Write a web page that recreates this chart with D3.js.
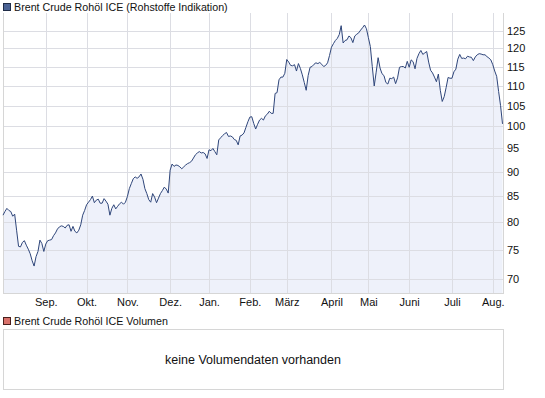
<!DOCTYPE html>
<html>
<head>
<meta charset="utf-8">
<script src="https://cdn.jsdelivr.net/npm/d3@7"></script>
<style>
  body { margin: 0; background: #fff; }
  svg { display: block; font-family: "Liberation Sans", Arial, sans-serif; }
</style>
</head>
<body>
<script>
// Brent, Schlusskurse pro Handelstag (Index 0 = erster Handelstag im Chart)
const prices = [
  81.3, 82.0, 82.6, 82.2, 82.0, 81.1, 81.5, 78.5, 75.6, 75.5,
  76.3, 76.6, 75.8, 75.1, 74.3, 73.1, 72.2, 73.8, 74.7, 76.7,
  76.1, 74.7, 76.0, 76.6, 76.7, 76.8, 77.5, 78.0, 78.7, 79.1,
  79.3, 79.2, 78.9, 79.4, 79.5, 78.3, 79.2, 78.3, 78.0, 78.5,
  79.5, 81.3, 82.2, 83.3, 83.8, 84.3, 85.0, 83.7, 84.2, 84.4,
  83.6, 83.6, 84.5, 84.0, 83.4, 81.3, 82.6, 83.3, 82.5, 83.0,
  83.5, 83.8, 83.4, 83.8, 84.9, 86.5, 87.5, 88.5, 88.9, 88.6,
  88.9, 89.5, 88.4, 86.5, 85.5, 84.3, 83.8, 85.5, 84.8, 83.7,
  84.6, 85.5, 86.1, 86.8, 86.4, 85.6, 90.3, 91.6, 91.1, 91.4,
  91.3, 91.0, 90.6, 91.0, 91.4, 91.7, 91.9, 92.2, 92.9, 93.6,
  94.0, 94.3, 94.0, 94.1, 93.8, 92.8, 94.7, 94.5, 95.0, 94.3,
  93.6, 96.9, 97.4, 97.9, 98.3, 98.6, 97.7, 97.8, 97.6, 97.0,
  96.8, 95.8, 97.8, 98.0, 98.5, 99.8, 101.1, 102.2, 102.3, 100.7,
  99.4, 100.5, 101.5, 101.9, 101.5, 102.5, 102.9, 103.6, 103.1, 103.1,
  108.0, 108.2, 111.5, 112.2, 112.2, 113.2, 116.9, 116.2, 115.3, 115.2,
  115.5, 113.8, 115.8, 114.5, 112.8, 110.8, 108.8, 112.6, 114.8, 115.0,
  115.6, 116.0, 115.8, 116.1, 115.6, 115.0, 115.3, 116.0, 118.0, 120.3,
  121.3, 122.2, 122.8, 123.9, 126.5, 121.5, 122.2, 122.4, 123.5, 123.0,
  121.6, 123.5, 124.0, 124.4, 125.2, 125.9, 126.7, 125.6, 123.0, 120.5,
  115.0, 109.9, 113.5, 117.4, 114.6, 113.1, 112.6, 110.8, 110.4, 111.9,
  111.8, 112.2, 110.5, 112.0, 114.8, 115.0, 115.0, 114.6, 116.4, 114.8,
  116.8, 116.3, 114.4, 117.2, 118.5, 119.4, 118.3, 118.7, 119.1, 116.2,
  114.0, 113.3, 112.2, 111.0, 113.0, 108.8, 106.0, 107.2, 109.5, 112.1,
  111.9, 111.9, 113.6, 114.3, 117.0, 118.3, 117.2, 117.3, 117.1, 117.8,
  117.6, 117.5, 116.6, 117.6, 118.2, 118.5, 118.4, 118.2, 118.2, 117.7,
  117.3, 116.8, 115.5, 113.8, 112.4, 108.5, 105.0, 100.6
]

const monthLabels = ['Sep.', 'Okt.', 'Nov.', 'Dez.', 'Jan.', 'Feb.', 'März', 'April', 'Mai', 'Juni', 'Juli', 'Aug.']
// Handelstag-Index des Monatsersten
const monthStarts = [22, 43, 64, 86, 106, 127, 146, 169, 188, 209, 231, 252]
const yTicks = [70, 75, 80, 85, 90, 95, 100, 105, 110, 115, 120, 125]

const width = 545
const height = 398
const plot = { left: 3, right: 503, top: 13, bottom: 293 }
const font = '"Liberation Sans", Arial, sans-serif'

const svg = d3.select('body').append('svg')
    .attr('width', width)
    .attr('height', height)

const x = d3.scaleLinear()
    .domain([0, prices.length - 1])
    .range([plot.left, plot.right - 0.5])

const y = d3.scaleLog()
    .domain([67.8, 130.3])
    .range([plot.bottom, plot.top])

// Legende oben
svg.append('rect')
    .attr('x', 3.5).attr('y', 3.5).attr('width', 7).attr('height', 7)
    .attr('fill', '#4a6294').attr('stroke', '#1f2c47')
svg.append('text')
    .attr('x', 14).attr('y', 11)
    .attr('font-size', 10.7).attr('fill', '#111')
    .text('Brent Crude Rohöl ICE (Rohstoffe Indikation)')

// Fläche unter der Kurve
const area = d3.area()
    .x((d, i) => x(i))
    .y0(plot.bottom)
    .y1(d => y(d))

svg.append('path')
    .datum(prices)
    .attr('d', area)
    .attr('fill', '#eef1fa')

// Gitter
const grid = svg.append('g')
    .attr('stroke', '#dcdde3')
    .attr('shape-rendering', 'crispEdges')

grid.selectAll('.h')
    .data(yTicks)
    .join('line')
    .attr('x1', plot.left).attr('x2', plot.right)
    .attr('y1', d => Math.round(y(d)) + 0.5)
    .attr('y2', d => Math.round(y(d)) + 0.5)

grid.selectAll('.v')
    .data(monthStarts)
    .join('line')
    .attr('x1', d => Math.round(x(d)) + 0.5)
    .attr('x2', d => Math.round(x(d)) + 0.5)
    .attr('y1', plot.top).attr('y2', plot.bottom)

// Rahmen links, rechts, unten
svg.append('path')
    .attr('d', `M${plot.left + 0.5},${plot.top}V${plot.bottom + 0.5}H${plot.right + 0.5}V${plot.top}`)
    .attr('fill', 'none')
    .attr('stroke', '#d6d6d6')
    .attr('shape-rendering', 'crispEdges')

// Kurs-Linie
const line = d3.line()
    .x((d, i) => x(i))
    .y(d => y(d))

svg.append('path')
    .datum(prices)
    .attr('d', line)
    .attr('fill', 'none')
    .attr('stroke', '#2f467a')
    .attr('stroke-width', 1)

// Achsen
const yAxis = d3.axisRight(y)
    .tickValues(yTicks)
    .tickFormat(d3.format('d'))
    .tickSize(0)
    .tickPadding(4)

svg.append('g')
    .attr('transform', `translate(${plot.right},0)`)
    .call(yAxis)
    .call(g => g.select('.domain').remove())
    .call(g => g.selectAll('text')
        .attr('font-size', 11)
        .attr('font-family', font)
        .attr('fill', '#111'))

const xAxis = d3.axisBottom(x)
    .tickValues(monthStarts)
    .tickFormat((d, i) => monthLabels[i])
    .tickSize(0)
    .tickPadding(5)

svg.append('g')
    .attr('transform', `translate(0,${plot.bottom})`)
    .call(xAxis)
    .call(g => g.select('.domain').remove())
    .call(g => g.selectAll('text')
        .attr('font-size', 11)
        .attr('font-family', font)
        .attr('fill', '#111'))

// Volumen-Panel
svg.append('rect')
    .attr('x', 3.5).attr('y', 317.5).attr('width', 7).attr('height', 7)
    .attr('fill', '#d9716b').attr('stroke', '#4a1f1c')
svg.append('text')
    .attr('x', 14).attr('y', 325)
    .attr('font-size', 10.7).attr('fill', '#111')
    .text('Brent Crude Rohöl ICE Volumen')

svg.append('rect')
    .attr('x', plot.left + 0.5).attr('y', 329.5)
    .attr('width', plot.right - plot.left).attr('height', 60)
    .attr('fill', '#fff')
    .attr('stroke', '#d6d6d6')
    .attr('shape-rendering', 'crispEdges')

svg.append('text')
    .attr('x', (plot.left + plot.right) / 2)
    .attr('y', 364)
    .attr('text-anchor', 'middle')
    .attr('font-size', 12.5).attr('fill', '#111')
    .text('keine Volumendaten vorhanden')
</script>
</body>
</html>
